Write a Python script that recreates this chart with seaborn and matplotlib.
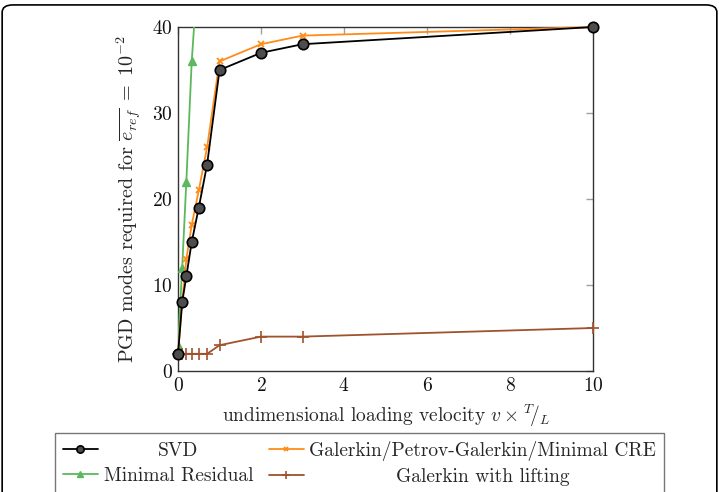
import matplotlib
matplotlib.use("Agg")
import matplotlib.pyplot as plt
import seaborn as sns
from matplotlib.patches import FancyBboxPatch

# ---- data ----
x_svd = [0, 0.1, 0.2, 0.33, 0.5, 0.7, 1, 2, 3, 10]
y_svd = [2, 8, 11, 15, 19, 24, 35, 37, 38, 40]

x_minres = [0, 0.1, 0.2, 0.33, 0.5]
y_minres = [3, 12, 22, 36, 48]

x_gal = [0, 0.1, 0.2, 0.33, 0.5, 0.7, 1, 2, 3, 10]
y_gal = [2, 8, 13, 17, 21, 26, 36, 38, 39, 40]

x_lift = [0, 0.1, 0.2, 0.33, 0.5, 0.7, 1, 2, 3, 10]
y_lift = [2, 2, 2, 2, 2, 2, 3, 4, 4, 5]

x_ticks = [0, 2, 4, 6, 8, 10]
y_ticks = [0, 10, 20, 30, 40]

labels = ["SVD", "Minimal Residual", "Galerkin/Petrov-Galerkin/Minimal CRE", "Galerkin with lifting"]

sns.set_theme(style="white")
plt.rcParams["font.family"] = ["cmr10", "DejaVu Serif"]
plt.rcParams["mathtext.fontset"] = "cm"
plt.rcParams["axes.formatter.use_mathtext"] = True

fig = plt.figure(figsize=(7.19, 4.92), dpi=100)
ax = fig.add_axes([0.2476, 0.2459, 0.5772, 0.6992])

c_green = "#5cb85c"
c_orange = "#ff8c1a"
c_brown = "#a0522d"

series = [
    (x_svd, y_svd, dict(color="black", marker="o", markersize=7.5, markerfacecolor="#4d4d4d",
                        markeredgecolor="black", markeredgewidth=1.2), False, 4),
    (x_minres, y_minres, dict(color=c_green, marker="^", markersize=6, markerfacecolor=c_green,
                              markeredgecolor=c_green, markeredgewidth=1.0), True, 3),
    (x_gal, y_gal, dict(color=c_orange, marker="x", markersize=5, markerfacecolor=c_orange,
                        markeredgecolor=c_orange, markeredgewidth=1.3), False, 3),
    (x_lift, y_lift, dict(color=c_brown, marker="+", markersize=8, markerfacecolor=c_brown,
                          markeredgecolor=c_brown, markeredgewidth=1.2), False, 3),
]

for (xs, ys, kw, clip, z), lab in zip(series, labels):
    n0 = len(ax.lines)
    sns.lineplot(x=xs, y=ys, ax=ax, linewidth=1.3, label=lab, zorder=z, **kw)
    for ln in ax.lines[n0:]:
        if clip:
            ln.set_clip_path(ax.patch)
            ln.set_clip_on(True)
        else:
            ln.set_clip_on(False)

ax.set_xlim(0, 10)
ax.set_ylim(0, 40)
ax.set_xticks(x_ticks)
ax.set_yticks(y_ticks)
ax.tick_params(direction="in", length=5, width=1, color="#a0a0a0",
               top=True, right=True, labelsize=14, pad=4, labelcolor="#111111")
for s in ax.spines.values():
    s.set_color("#333333")
    s.set_linewidth(1.0)

ax.set_xlabel(r"undimensional loading velocity $v \times {}^{T}\!/_{L}$", fontsize=14, labelpad=6)
ax.set_ylabel(r"PGD modes required for $\overline{e_{ref}}\ =\ 10^{-2}$", fontsize=14.5, labelpad=6)

h, l = ax.get_legend_handles_labels()
ax.get_legend().remove()
leg = fig.legend(h, l, loc="upper center", bbox_to_anchor=(0.5, 1 - 433 / 492), ncol=2,
                 fontsize=14, frameon=True, fancybox=False, edgecolor="#555555",
                 handlelength=1.8, handletextpad=0.3, columnspacing=0.8,
                 borderpad=0.4, labelspacing=0.35, borderaxespad=0, markerscale=0.7)
leg.get_frame().set_linewidth(1.0)

# center the labels inside each legend column (as in the reference)
fig.canvas.draw()
r = fig.canvas.get_renderer()
texts = leg.get_texts()
widths = [t.get_window_extent(r).width for t in texts]
for col in ([0, 1], [2, 3]):
    wmax = max(widths[i] for i in col)
    for i in col:
        texts[i].set_x((wmax - widths[i]) / 2.0)

border = FancyBboxPatch((0.003, -0.2), 0.994, 1.19, boxstyle="round,pad=0,rounding_size=0.015",
                        transform=fig.transFigure, facecolor="none", edgecolor="black",
                        linewidth=1.2, zorder=0)
fig.patches.append(border)

fig.savefig("out.png", dpi=100)
